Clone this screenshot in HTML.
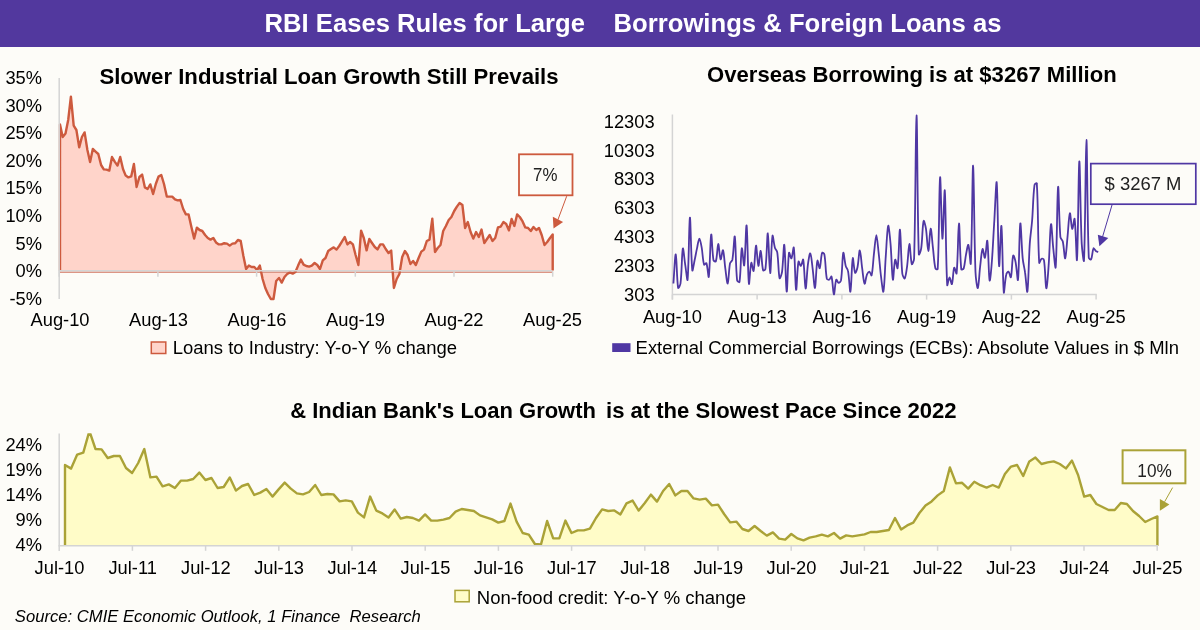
<!DOCTYPE html>
<html lang="en"><head><meta charset="utf-8"><title>RBI Eases Rules for Large Borrowings &amp; Foreign Loans</title>
<style>html,body{margin:0;padding:0;background:#fdfcf8;}body{width:1200px;height:630px;overflow:hidden;font-family:"Liberation Sans",Arial,sans-serif;}svg{display:block}</style>
</head><body>
<svg width="1200" height="630" viewBox="0 0 1200 630">
<rect width="1200" height="630" fill="#fdfcf8"/>
<rect width="1200" height="47" fill="#52389e"/>
<g font-family="'Liberation Sans', Arial, sans-serif">
<text x="264.6" y="31.6" font-size="25.6" font-weight="bold" fill="#fff" textLength="320.4" lengthAdjust="spacingAndGlyphs">RBI Eases Rules for Large</text>
<text x="613.5" y="31.6" font-size="25.6" font-weight="bold" fill="#fff" textLength="388" lengthAdjust="spacingAndGlyphs">Borrowings &amp; Foreign Loans as</text>
<path d="M60.0,271.5 L60.0,124.4 L62.7,137.0 L65.5,133.6 L68.2,120.0 L70.9,96.6 L73.7,125.6 L76.4,130.0 L79.2,147.4 L81.9,137.0 L84.6,132.4 L87.4,150.0 L90.1,162.0 L92.8,149.0 L95.6,151.6 L98.3,154.0 L101.1,165.0 L103.8,169.4 L106.5,169.6 L109.3,170.6 L112.0,157.0 L114.7,161.6 L117.5,165.6 L120.2,157.0 L123.0,169.0 L125.7,175.6 L128.4,177.4 L131.2,176.4 L133.9,164.0 L136.6,187.0 L139.4,177.0 L142.1,174.6 L144.9,187.4 L147.6,189.0 L150.3,184.4 L153.1,194.0 L155.8,184.0 L158.5,176.6 L161.3,175.0 L164.0,184.0 L166.8,196.6 L169.5,196.6 L172.2,196.6 L175.0,199.4 L177.7,200.4 L180.4,200.0 L183.2,209.0 L185.9,214.4 L188.6,214.4 L191.4,227.0 L194.1,238.6 L196.9,227.6 L199.6,230.0 L202.3,231.0 L205.1,235.0 L207.8,238.0 L210.5,239.6 L213.3,238.0 L216.0,242.4 L218.8,244.4 L221.5,244.4 L224.2,243.2 L227.0,243.6 L229.7,245.6 L232.4,243.6 L235.2,243.2 L237.9,240.0 L240.7,241.0 L243.4,256.0 L246.1,269.0 L248.9,265.6 L251.6,267.0 L254.3,267.0 L257.1,270.0 L259.8,265.6 L262.6,279.0 L265.3,288.0 L268.0,294.0 L270.8,299.0 L273.5,299.0 L276.2,281.0 L279.0,278.0 L281.7,282.6 L284.5,277.0 L287.2,274.0 L289.9,272.4 L292.7,273.6 L295.4,272.0 L298.1,265.6 L300.9,259.6 L303.6,264.6 L306.3,266.0 L309.1,266.6 L311.8,265.6 L314.6,263.0 L317.3,265.0 L320.0,269.0 L322.8,260.4 L325.5,258.0 L328.2,251.0 L331.0,249.0 L333.7,247.4 L336.5,249.6 L339.2,246.0 L341.9,241.6 L344.7,237.0 L347.4,244.4 L350.1,242.0 L352.9,244.4 L355.6,255.0 L358.4,265.0 L361.1,230.6 L363.8,238.0 L366.6,250.4 L369.3,239.0 L372.0,243.0 L374.8,247.0 L377.5,249.4 L380.3,244.4 L383.0,244.4 L385.7,249.0 L388.5,253.0 L391.2,250.6 L393.9,288.0 L396.7,279.0 L399.4,274.0 L402.2,257.0 L404.9,251.0 L407.6,255.0 L410.4,264.0 L413.1,261.0 L415.8,265.0 L418.6,258.0 L421.3,251.6 L424.0,249.6 L426.8,241.0 L429.5,239.6 L432.3,218.6 L435.0,252.0 L437.7,248.0 L440.5,245.0 L443.2,231.0 L445.9,226.0 L448.7,220.0 L451.4,217.0 L454.2,211.0 L456.9,206.6 L459.6,203.0 L462.4,205.0 L465.1,228.0 L467.8,222.0 L470.6,232.0 L473.3,238.6 L476.1,232.0 L478.8,237.0 L481.5,229.6 L484.3,243.0 L487.0,239.0 L489.7,235.0 L492.5,241.0 L495.2,238.0 L498.0,227.4 L500.7,226.6 L503.4,222.0 L506.2,224.0 L508.9,230.4 L511.6,219.0 L514.4,226.0 L517.1,214.4 L519.8,217.0 L522.6,221.4 L525.3,227.4 L528.1,228.0 L530.8,231.0 L533.5,227.0 L536.3,230.0 L539.0,228.0 L541.7,235.0 L544.5,245.0 L547.2,242.0 L550.0,238.0 L552.7,234.4 L552.7,271.5 Z" fill="#ffd4ca"/>
<path d="M60.0,272.15 H552.7" stroke="#dc9585" stroke-width="1.5" fill="none"/>
<polyline points="60.0,270.5 60.0,124.4 62.7,137.0 65.5,133.6 68.2,120.0 70.9,96.6 73.7,125.6 76.4,130.0 79.2,147.4 81.9,137.0 84.6,132.4 87.4,150.0 90.1,162.0 92.8,149.0 95.6,151.6 98.3,154.0 101.1,165.0 103.8,169.4 106.5,169.6 109.3,170.6 112.0,157.0 114.7,161.6 117.5,165.6 120.2,157.0 123.0,169.0 125.7,175.6 128.4,177.4 131.2,176.4 133.9,164.0 136.6,187.0 139.4,177.0 142.1,174.6 144.9,187.4 147.6,189.0 150.3,184.4 153.1,194.0 155.8,184.0 158.5,176.6 161.3,175.0 164.0,184.0 166.8,196.6 169.5,196.6 172.2,196.6 175.0,199.4 177.7,200.4 180.4,200.0 183.2,209.0 185.9,214.4 188.6,214.4 191.4,227.0 194.1,238.6 196.9,227.6 199.6,230.0 202.3,231.0 205.1,235.0 207.8,238.0 210.5,239.6 213.3,238.0 216.0,242.4 218.8,244.4 221.5,244.4 224.2,243.2 227.0,243.6 229.7,245.6 232.4,243.6 235.2,243.2 237.9,240.0 240.7,241.0 243.4,256.0 246.1,269.0 248.9,265.6 251.6,267.0 254.3,267.0 257.1,270.0 259.8,265.6 262.6,279.0 265.3,288.0 268.0,294.0 270.8,299.0 273.5,299.0 276.2,281.0 279.0,278.0 281.7,282.6 284.5,277.0 287.2,274.0 289.9,272.4 292.7,273.6 295.4,272.0 298.1,265.6 300.9,259.6 303.6,264.6 306.3,266.0 309.1,266.6 311.8,265.6 314.6,263.0 317.3,265.0 320.0,269.0 322.8,260.4 325.5,258.0 328.2,251.0 331.0,249.0 333.7,247.4 336.5,249.6 339.2,246.0 341.9,241.6 344.7,237.0 347.4,244.4 350.1,242.0 352.9,244.4 355.6,255.0 358.4,265.0 361.1,230.6 363.8,238.0 366.6,250.4 369.3,239.0 372.0,243.0 374.8,247.0 377.5,249.4 380.3,244.4 383.0,244.4 385.7,249.0 388.5,253.0 391.2,250.6 393.9,288.0 396.7,279.0 399.4,274.0 402.2,257.0 404.9,251.0 407.6,255.0 410.4,264.0 413.1,261.0 415.8,265.0 418.6,258.0 421.3,251.6 424.0,249.6 426.8,241.0 429.5,239.6 432.3,218.6 435.0,252.0 437.7,248.0 440.5,245.0 443.2,231.0 445.9,226.0 448.7,220.0 451.4,217.0 454.2,211.0 456.9,206.6 459.6,203.0 462.4,205.0 465.1,228.0 467.8,222.0 470.6,232.0 473.3,238.6 476.1,232.0 478.8,237.0 481.5,229.6 484.3,243.0 487.0,239.0 489.7,235.0 492.5,241.0 495.2,238.0 498.0,227.4 500.7,226.6 503.4,222.0 506.2,224.0 508.9,230.4 511.6,219.0 514.4,226.0 517.1,214.4 519.8,217.0 522.6,221.4 525.3,227.4 528.1,228.0 530.8,231.0 533.5,227.0 536.3,230.0 539.0,228.0 541.7,235.0 544.5,245.0 547.2,242.0 550.0,238.0 552.7,234.4 552.7,270.5" fill="none" stroke="#cd5a3e" stroke-width="2.4" stroke-linejoin="round"/>
<path d="M59.2,78 V299" stroke="#d4d4d4" stroke-width="1.5" fill="none"/>
<path d="M58.5,270.7 H552.2" stroke="#d4d4d4" stroke-width="1.4" fill="none"/>
<path d="M59.2,271.4 v5.3" stroke="#d4d4d4" stroke-width="1.5"/>
<path d="M157.9,271.4 v5.3" stroke="#d4d4d4" stroke-width="1.5"/>
<path d="M256.6,271.4 v5.3" stroke="#d4d4d4" stroke-width="1.5"/>
<path d="M355.3,271.4 v5.3" stroke="#d4d4d4" stroke-width="1.5"/>
<path d="M454.0,271.4 v5.3" stroke="#d4d4d4" stroke-width="1.5"/>
<path d="M552.7,271.4 v5.3" stroke="#d4d4d4" stroke-width="1.5"/>
<g font-size="18.3" fill="#000">
<text x="42" y="84.0" text-anchor="end">35%</text>
<text x="42" y="111.6" text-anchor="end">30%</text>
<text x="42" y="139.2" text-anchor="end">25%</text>
<text x="42" y="166.8" text-anchor="end">20%</text>
<text x="42" y="194.4" text-anchor="end">15%</text>
<text x="42" y="222.0" text-anchor="end">10%</text>
<text x="42" y="249.6" text-anchor="end">5%</text>
<text x="42" y="277.2" text-anchor="end">0%</text>
<text x="42" y="304.8" text-anchor="end">-5%</text>
<text x="60.0" y="326" text-anchor="middle">Aug-10</text>
<text x="158.5" y="326" text-anchor="middle">Aug-13</text>
<text x="257.0" y="326" text-anchor="middle">Aug-16</text>
<text x="355.5" y="326" text-anchor="middle">Aug-19</text>
<text x="454.0" y="326" text-anchor="middle">Aug-22</text>
<text x="552.5" y="326" text-anchor="middle">Aug-25</text>
<text x="172.7" y="353.9" textLength="284.3" lengthAdjust="spacingAndGlyphs">Loans to Industry: Y-o-Y % change</text>
</g>
<rect x="151.3" y="342" width="14.5" height="11.5" fill="#ffd4ca" stroke="#cd5a3e" stroke-width="1.5"/>
<text x="99.4" y="84.1" font-size="22" font-weight="bold" fill="#000" textLength="459.2" lengthAdjust="spacingAndGlyphs">Slower Industrial Loan Growth Still Prevails</text>
<rect x="519" y="154.3" width="53.5" height="41" fill="#fdfcf8" stroke="#cd5a3e" stroke-width="1.8"/>
<text x="533" y="180.6" font-size="18" fill="#222" textLength="24.4" lengthAdjust="spacingAndGlyphs">7%</text>
<path d="M566.7,196.2 L557.9,219.8" stroke="#cd5a3e" stroke-width="1" fill="none"/>
<path d="M553.5,228.4 L552.8,216.8 L563.1,222.1 Z" fill="#cd5a3e"/>
<path d="M672.4,114.6 V299.6 M671.7,294.4 H1096.8" stroke="#d4d4d4" stroke-width="1.5" fill="none"/>
<path d="M672.4,294.4 v5.2" stroke="#d4d4d4" stroke-width="1.5"/>
<path d="M757.1,294.4 v5.2" stroke="#d4d4d4" stroke-width="1.5"/>
<path d="M841.9,294.4 v5.2" stroke="#d4d4d4" stroke-width="1.5"/>
<path d="M926.6,294.4 v5.2" stroke="#d4d4d4" stroke-width="1.5"/>
<path d="M1011.4,294.4 v5.2" stroke="#d4d4d4" stroke-width="1.5"/>
<path d="M1096.1,294.4 v5.2" stroke="#d4d4d4" stroke-width="1.5"/>
<path d="M673.4,283.5C674.2,273.8 675.0,253.7 675.8,254.4C676.6,255.2 676.8,279.4 678.1,287.9C678.3,289.1 680.3,285.1 680.5,283.5C681.9,272.0 681.8,252.9 682.8,248.6C683.3,246.6 684.4,259.3 685.2,264.7C686.0,269.7 687.3,282.8 687.6,279.7C688.8,267.1 689.1,219.3 689.9,217.6C690.6,216.2 691.0,258.4 692.3,270.3C692.5,272.6 693.9,263.6 694.6,260.3C695.5,256.3 696.1,252.3 697.0,248.4C697.7,245.1 698.5,238.7 699.4,238.6C700.1,238.5 701.2,244.6 701.7,247.7C702.7,253.3 702.7,260.3 704.1,264.7C704.3,265.4 706.2,262.5 706.4,263.2C707.7,266.5 708.4,279.2 708.8,276.8C710.0,269.7 710.2,238.0 711.2,234.6C711.8,232.5 712.1,252.2 713.5,260.3C713.7,261.1 715.7,262.0 715.9,261.3C717.3,256.6 717.4,244.3 718.2,244.0C719.0,243.7 719.6,258.1 720.6,259.4C721.2,260.2 722.4,249.2 723.0,250.3C724.0,252.2 724.5,262.4 725.3,268.4C726.0,273.5 727.0,284.2 727.7,283.5C728.6,282.5 728.8,269.9 730.0,263.4C730.3,262.0 732.1,261.1 732.4,259.7C733.7,252.1 734.2,234.1 734.8,236.5C735.8,241.0 735.6,266.1 737.1,280.4C737.2,281.3 739.4,282.8 739.5,282.0C740.9,272.2 740.8,252.1 741.8,248.4C742.4,246.5 743.7,267.6 744.2,265.3C745.3,260.0 745.9,223.0 746.6,225.5C747.5,229.2 747.8,274.6 748.9,283.7C749.3,287.0 750.2,265.8 751.3,262.8C751.7,261.6 753.2,272.4 753.6,270.9C754.8,266.7 755.1,246.5 756.0,245.6C756.7,244.9 757.5,264.9 758.4,265.9C759.0,266.7 760.0,250.2 760.7,250.9C761.6,251.7 761.7,265.0 763.1,270.3C763.3,271.0 765.3,269.9 765.4,269.1C766.9,257.6 767.1,232.7 767.8,233.3C768.6,234.0 769.3,272.6 770.2,273.1C770.9,273.5 771.3,242.2 772.5,235.8C772.9,233.8 773.8,243.9 774.9,247.7C775.3,249.3 777.0,250.5 777.2,252.1C778.6,260.7 778.3,272.9 779.6,278.2C779.9,279.5 781.7,274.3 782.0,272.2C783.2,263.2 783.7,242.5 784.3,244.9C785.3,248.9 785.8,290.2 786.7,291.6C787.4,292.8 787.7,262.3 789.0,252.8C789.3,251.3 790.8,259.0 791.4,258.4C792.4,257.3 793.4,245.6 793.8,247.7C795.0,256.0 795.2,287.0 796.1,289.8C796.8,291.6 797.1,268.3 798.5,261.5C798.7,260.4 800.2,266.2 800.8,265.9C801.7,265.6 802.9,258.2 803.2,259.7C804.5,265.8 804.7,287.6 805.6,288.5C806.3,289.3 806.9,272.6 807.9,264.7C808.4,260.9 809.6,252.8 810.3,253.4C811.2,254.1 812.0,263.4 812.6,268.4C813.5,274.9 814.3,289.0 815.0,287.9C815.9,286.4 816.1,265.8 817.4,260.7C817.7,259.2 819.2,269.1 819.7,268.2C820.8,266.4 820.8,256.5 822.1,252.8C822.3,252.0 824.3,253.7 824.4,254.6C825.8,262.3 825.4,271.0 826.8,278.5C827.0,279.3 828.5,280.0 829.2,279.7C830.1,279.4 831.2,275.7 831.5,276.6C832.8,280.6 833.0,293.8 833.9,294.4C834.6,294.9 835.0,282.8 836.2,279.7C836.6,278.9 837.8,282.8 838.6,282.9C839.3,283.0 840.8,281.5 841.0,280.4C842.4,271.4 842.3,256.0 843.3,252.8C843.8,251.2 844.6,261.6 845.7,265.9C846.1,267.7 847.7,269.1 848.0,270.9C849.3,277.7 849.8,293.3 850.4,291.6C851.4,289.0 851.7,262.5 852.8,258.2C853.2,256.2 854.0,270.7 855.1,272.8C855.6,273.7 857.1,269.2 857.5,267.2C858.6,261.6 859.1,250.1 859.8,250.3C860.7,250.5 861.3,262.4 862.2,268.4C862.9,273.6 863.6,282.4 864.6,283.7C865.2,284.5 865.8,277.6 866.9,274.7C867.4,273.5 868.5,271.5 869.3,271.6C870.1,271.7 871.4,276.4 871.6,275.3C872.9,270.3 873.1,260.7 874.0,253.4C874.7,247.3 875.6,235.2 876.4,235.2C877.1,235.2 878.0,247.3 878.7,253.4C879.6,261.3 880.1,269.3 881.1,277.2C881.7,282.1 883.0,293.7 883.4,291.6C884.6,286.6 884.9,267.8 885.8,255.9C886.5,245.9 887.2,228.4 888.2,225.8C888.7,224.3 890.0,237.5 890.5,243.4C891.6,255.5 891.9,276.2 892.9,279.7C893.4,281.7 894.1,262.4 895.2,259.7C895.7,258.5 897.3,269.9 897.6,268.1C898.9,259.9 899.2,228.7 900.0,229.6C900.8,230.5 900.9,259.0 902.3,273.5C902.5,275.3 904.2,279.2 904.7,278.5C905.7,277.1 906.5,271.0 907.0,267.2C908.1,259.5 908.6,244.5 909.4,244.0C910.1,243.5 910.6,260.4 911.8,264.1C912.1,265.2 914.1,260.4 914.1,258.4C915.6,210.9 915.7,116.1 916.5,115.4C917.3,114.7 917.3,211.9 918.8,254.3C918.9,256.2 920.9,250.5 921.2,248.4C922.5,239.4 922.3,226.3 923.6,221.0C923.9,219.6 925.5,225.8 925.9,228.3C927.1,235.8 927.5,251.1 928.3,251.1C929.1,251.2 929.8,229.0 930.6,228.6C931.4,228.1 932.2,241.8 933.0,248.4C933.8,255.1 934.0,262.3 935.4,268.4C935.5,269.2 937.7,269.9 937.7,269.1C939.3,239.5 939.1,183.5 940.1,177.4C940.7,173.3 941.6,236.1 942.4,238.6C943.1,240.5 944.3,185.4 944.8,190.6C945.8,200.9 945.7,258.3 947.2,285.0C947.3,287.2 948.7,277.6 949.5,277.5C950.3,277.3 951.4,285.1 951.9,284.1C953.0,281.8 953.1,270.3 954.2,267.7C954.7,266.7 956.4,275.1 956.6,273.5C958.0,260.4 958.1,224.2 959.0,223.5C959.7,222.9 959.8,255.3 961.3,269.4C961.4,270.2 963.4,269.2 963.7,268.4C965.0,264.3 965.1,259.2 966.0,254.6C966.7,251.4 967.8,243.8 968.4,244.9C969.4,246.8 970.5,267.7 970.8,263.4C972.1,241.2 972.4,164.2 973.1,165.6C973.9,167.1 974.1,236.7 975.5,272.2C975.7,277.6 977.2,289.0 977.8,288.1C978.8,286.9 979.3,273.3 980.2,265.9C980.9,260.3 981.5,250.8 982.6,249.0C983.1,248.1 984.4,258.7 984.9,257.8C985.9,256.0 986.8,238.6 987.3,240.8C988.4,246.1 988.6,276.2 989.6,280.4C990.2,282.5 991.5,266.6 992.0,259.7C993.0,246.3 993.5,232.9 994.4,219.5C995.1,207.2 996.2,177.8 996.7,182.6C997.8,193.3 998.0,256.1 999.1,265.9C999.6,270.6 1000.8,222.7 1001.4,226.0C1002.4,231.5 1002.6,279.5 1003.8,292.3C1004.1,295.7 1004.9,280.4 1006.2,274.7C1006.4,273.5 1007.9,271.2 1008.5,271.6C1009.5,272.1 1010.5,278.4 1010.9,277.2C1012.1,273.1 1012.0,259.4 1013.2,255.6C1013.6,254.4 1015.2,259.9 1015.6,262.2C1016.7,267.9 1017.6,282.8 1018.0,279.7C1019.2,269.9 1019.3,227.9 1020.3,223.5C1020.9,220.8 1021.6,246.8 1022.7,258.4C1023.1,263.0 1024.4,267.6 1025.0,272.2C1026.0,278.7 1026.9,294.4 1027.4,291.6C1028.5,284.8 1028.7,259.4 1029.8,243.4C1030.3,235.8 1031.5,228.3 1032.1,220.8C1033.1,208.9 1033.0,196.5 1034.5,185.0C1034.6,184.1 1036.8,182.5 1036.8,183.4C1038.4,208.4 1037.7,239.1 1039.2,262.8C1039.3,264.2 1040.5,259.3 1041.6,258.7C1042.1,258.3 1043.8,258.9 1043.9,259.7C1045.4,268.7 1045.4,287.1 1046.3,288.3C1047.0,289.2 1048.1,273.4 1048.6,265.9C1049.7,252.0 1050.0,227.5 1051.0,224.2C1051.6,222.1 1052.4,241.2 1053.4,249.6C1054.0,255.5 1055.4,271.0 1055.7,267.2C1057.0,250.1 1057.1,193.2 1058.1,187.0C1058.7,183.1 1059.0,220.6 1060.4,237.1C1060.6,238.7 1062.4,239.9 1062.8,241.5C1064.0,247.0 1064.5,259.1 1065.2,258.4C1066.0,257.6 1066.8,244.2 1067.5,237.1C1068.3,229.1 1068.9,214.9 1069.9,213.3C1070.5,212.2 1071.3,227.8 1072.2,228.9C1072.9,229.7 1074.3,216.8 1074.6,218.9C1075.9,227.1 1076.5,265.3 1077.0,259.7C1078.1,246.1 1078.5,164.4 1079.3,161.4C1080.0,158.9 1080.4,216.1 1081.7,243.4C1082.0,249.0 1083.8,264.6 1084.0,260.3C1085.4,230.1 1085.6,140.4 1086.4,140.0C1087.2,139.6 1087.2,218.9 1088.8,257.8C1088.8,258.7 1090.8,260.0 1091.1,259.4C1092.4,256.9 1092.3,250.6 1093.5,248.4C1093.8,247.7 1095.0,250.2 1095.8,250.9C1096.5,251.4 1097.4,251.7 1098.2,252.1" fill="none" stroke="#4f37a3" stroke-width="1.8" stroke-linejoin="round"/>
<g font-size="18.3" fill="#000">
<text x="654.6" y="127.7" text-anchor="end">12303</text>
<text x="654.6" y="156.5" text-anchor="end">10303</text>
<text x="654.6" y="185.4" text-anchor="end">8303</text>
<text x="654.6" y="214.2" text-anchor="end">6303</text>
<text x="654.6" y="243.1" text-anchor="end">4303</text>
<text x="654.6" y="271.9" text-anchor="end">2303</text>
<text x="654.6" y="300.8" text-anchor="end">303</text>
<text x="672.4" y="322.6" text-anchor="middle">Aug-10</text>
<text x="757.1" y="322.6" text-anchor="middle">Aug-13</text>
<text x="841.9" y="322.6" text-anchor="middle">Aug-16</text>
<text x="926.6" y="322.6" text-anchor="middle">Aug-19</text>
<text x="1011.4" y="322.6" text-anchor="middle">Aug-22</text>
<text x="1096.1" y="322.6" text-anchor="middle">Aug-25</text>
<text x="635.6" y="353.9" textLength="543.3" lengthAdjust="spacingAndGlyphs">External Commercial Borrowings (ECBs): Absolute Values in $ Mln</text>
</g>
<rect x="612.2" y="343.2" width="18.3" height="8.8" fill="#4f37a3"/>
<text x="707.1" y="82.4" font-size="22" font-weight="bold" fill="#000" textLength="409.6" lengthAdjust="spacingAndGlyphs">Overseas Borrowing is at $3267 Million</text>
<rect x="1090.8" y="163.6" width="105" height="40.6" fill="#fdfcf8" stroke="#4f37a3" stroke-width="1.7"/>
<text x="1104.5" y="190.4" font-size="19.2" fill="#222" textLength="77" lengthAdjust="spacingAndGlyphs">$ 3267 M</text>
<path d="M1112,205 L1102.5,237" stroke="#4f37a3" stroke-width="1" fill="none"/>
<path d="M1099.4,246.3 L1097.8,234.7 L1108.3,237.9 Z" fill="#4f37a3"/>
<clipPath id="cl3"><rect x="50" y="433.3" width="1130" height="120"/></clipPath>
<g clip-path="url(#cl3)"><path d="M65.0,545.7 L65.0,465.0 L71.1,468.6 L77.2,454.6 L83.3,452.6 L89.4,431.0 L95.5,449.0 L101.6,449.4 L107.7,458.0 L113.8,456.0 L119.9,456.0 L126.0,468.0 L132.1,473.0 L138.2,463.0 L144.3,449.0 L150.4,477.4 L156.5,476.6 L162.6,486.4 L168.8,484.4 L174.9,488.0 L181.0,480.6 L187.1,480.6 L193.2,479.0 L199.3,472.6 L205.4,480.0 L211.5,478.0 L217.6,488.0 L223.7,487.0 L229.8,477.4 L235.9,490.6 L242.0,486.0 L248.1,484.0 L254.2,495.0 L260.3,492.6 L266.4,489.0 L272.5,496.6 L278.6,489.4 L284.7,482.6 L290.8,488.6 L296.9,493.4 L303.0,494.4 L309.1,492.0 L315.2,485.0 L321.3,495.0 L327.4,494.0 L333.5,494.4 L339.6,501.4 L345.7,500.4 L351.8,501.4 L357.9,512.6 L364.0,517.4 L370.1,496.6 L376.3,510.6 L382.4,513.4 L388.5,517.4 L394.6,509.4 L400.7,518.6 L406.8,517.0 L412.9,518.0 L419.0,520.6 L425.1,514.4 L431.2,520.6 L437.3,520.6 L443.4,519.6 L449.5,518.0 L455.6,511.6 L461.7,509.0 L467.8,510.0 L473.9,511.0 L480.0,515.4 L486.1,517.4 L492.2,519.4 L498.3,522.6 L504.4,521.0 L510.5,503.6 L516.6,521.6 L522.7,533.0 L528.8,534.6 L534.9,544.0 L541.0,544.4 L547.1,521.0 L553.2,538.4 L559.3,538.4 L565.4,520.6 L571.5,533.0 L577.7,530.4 L583.8,530.4 L589.9,528.6 L596.0,518.0 L602.1,509.4 L608.2,511.0 L614.3,510.4 L620.4,514.4 L626.5,503.4 L632.6,500.6 L638.7,510.6 L644.8,503.0 L650.9,494.6 L657.0,501.6 L663.1,491.0 L669.2,484.0 L675.3,495.4 L681.4,491.0 L687.5,491.0 L693.6,498.4 L699.7,499.6 L705.8,498.6 L711.9,505.4 L718.0,504.6 L724.1,514.0 L730.2,522.4 L736.3,521.6 L742.4,529.0 L748.5,531.0 L754.6,526.0 L760.7,531.0 L766.8,535.6 L772.9,532.4 L779.1,538.6 L785.2,539.6 L791.3,534.0 L797.4,538.4 L803.5,540.4 L809.6,537.6 L815.7,536.4 L821.8,534.6 L827.9,536.4 L834.0,533.0 L840.1,538.6 L846.2,535.4 L852.3,536.4 L858.4,535.4 L864.5,534.4 L870.6,532.0 L876.7,532.0 L882.8,531.0 L888.9,530.0 L895.0,518.0 L901.1,529.4 L907.2,525.4 L913.3,522.6 L919.4,513.0 L925.5,505.6 L931.6,501.4 L937.7,495.4 L943.8,491.0 L949.9,467.4 L956.0,483.4 L962.1,482.8 L968.2,488.6 L974.3,481.8 L980.4,485.2 L986.6,487.6 L992.7,485.0 L998.8,487.6 L1004.9,474.0 L1011.0,466.6 L1017.1,465.0 L1023.2,476.0 L1029.3,461.4 L1035.4,457.6 L1041.5,464.0 L1047.6,462.4 L1053.7,461.4 L1059.8,464.0 L1065.9,468.4 L1072.0,460.6 L1078.1,475.0 L1084.2,496.6 L1090.3,495.0 L1096.4,504.0 L1102.5,507.0 L1108.6,510.0 L1114.7,510.0 L1120.8,503.0 L1126.9,504.0 L1133.0,511.0 L1139.1,516.0 L1145.2,522.0 L1151.3,519.0 L1157.4,516.4 L1157.4,545.7 Z" fill="#fffcc8"/>
<polyline points="65.0,545.7 65.0,465.0 71.1,468.6 77.2,454.6 83.3,452.6 89.4,431.0 95.5,449.0 101.6,449.4 107.7,458.0 113.8,456.0 119.9,456.0 126.0,468.0 132.1,473.0 138.2,463.0 144.3,449.0 150.4,477.4 156.5,476.6 162.6,486.4 168.8,484.4 174.9,488.0 181.0,480.6 187.1,480.6 193.2,479.0 199.3,472.6 205.4,480.0 211.5,478.0 217.6,488.0 223.7,487.0 229.8,477.4 235.9,490.6 242.0,486.0 248.1,484.0 254.2,495.0 260.3,492.6 266.4,489.0 272.5,496.6 278.6,489.4 284.7,482.6 290.8,488.6 296.9,493.4 303.0,494.4 309.1,492.0 315.2,485.0 321.3,495.0 327.4,494.0 333.5,494.4 339.6,501.4 345.7,500.4 351.8,501.4 357.9,512.6 364.0,517.4 370.1,496.6 376.3,510.6 382.4,513.4 388.5,517.4 394.6,509.4 400.7,518.6 406.8,517.0 412.9,518.0 419.0,520.6 425.1,514.4 431.2,520.6 437.3,520.6 443.4,519.6 449.5,518.0 455.6,511.6 461.7,509.0 467.8,510.0 473.9,511.0 480.0,515.4 486.1,517.4 492.2,519.4 498.3,522.6 504.4,521.0 510.5,503.6 516.6,521.6 522.7,533.0 528.8,534.6 534.9,544.0 541.0,544.4 547.1,521.0 553.2,538.4 559.3,538.4 565.4,520.6 571.5,533.0 577.7,530.4 583.8,530.4 589.9,528.6 596.0,518.0 602.1,509.4 608.2,511.0 614.3,510.4 620.4,514.4 626.5,503.4 632.6,500.6 638.7,510.6 644.8,503.0 650.9,494.6 657.0,501.6 663.1,491.0 669.2,484.0 675.3,495.4 681.4,491.0 687.5,491.0 693.6,498.4 699.7,499.6 705.8,498.6 711.9,505.4 718.0,504.6 724.1,514.0 730.2,522.4 736.3,521.6 742.4,529.0 748.5,531.0 754.6,526.0 760.7,531.0 766.8,535.6 772.9,532.4 779.1,538.6 785.2,539.6 791.3,534.0 797.4,538.4 803.5,540.4 809.6,537.6 815.7,536.4 821.8,534.6 827.9,536.4 834.0,533.0 840.1,538.6 846.2,535.4 852.3,536.4 858.4,535.4 864.5,534.4 870.6,532.0 876.7,532.0 882.8,531.0 888.9,530.0 895.0,518.0 901.1,529.4 907.2,525.4 913.3,522.6 919.4,513.0 925.5,505.6 931.6,501.4 937.7,495.4 943.8,491.0 949.9,467.4 956.0,483.4 962.1,482.8 968.2,488.6 974.3,481.8 980.4,485.2 986.6,487.6 992.7,485.0 998.8,487.6 1004.9,474.0 1011.0,466.6 1017.1,465.0 1023.2,476.0 1029.3,461.4 1035.4,457.6 1041.5,464.0 1047.6,462.4 1053.7,461.4 1059.8,464.0 1065.9,468.4 1072.0,460.6 1078.1,475.0 1084.2,496.6 1090.3,495.0 1096.4,504.0 1102.5,507.0 1108.6,510.0 1114.7,510.0 1120.8,503.0 1126.9,504.0 1133.0,511.0 1139.1,516.0 1145.2,522.0 1151.3,519.0 1157.4,516.4 1157.4,545.7" fill="none" stroke="#aaa237" stroke-width="2.4" stroke-linejoin="round"/></g>
<path d="M59.2,433.5 V551" stroke="#d4d4d4" stroke-width="1.5" fill="none"/>
<path d="M58.5,545.8 H1158" stroke="#d4d4d4" stroke-width="1.5" fill="none"/>
<path d="M132.4,545.8 v5" stroke="#d4d4d4" stroke-width="1.5"/>
<path d="M205.6,545.8 v5" stroke="#d4d4d4" stroke-width="1.5"/>
<path d="M278.8,545.8 v5" stroke="#d4d4d4" stroke-width="1.5"/>
<path d="M352.0,545.8 v5" stroke="#d4d4d4" stroke-width="1.5"/>
<path d="M425.2,545.8 v5" stroke="#d4d4d4" stroke-width="1.5"/>
<path d="M498.4,545.8 v5" stroke="#d4d4d4" stroke-width="1.5"/>
<path d="M571.6,545.8 v5" stroke="#d4d4d4" stroke-width="1.5"/>
<path d="M644.8,545.8 v5" stroke="#d4d4d4" stroke-width="1.5"/>
<path d="M718.0,545.8 v5" stroke="#d4d4d4" stroke-width="1.5"/>
<path d="M791.2,545.8 v5" stroke="#d4d4d4" stroke-width="1.5"/>
<path d="M864.4,545.8 v5" stroke="#d4d4d4" stroke-width="1.5"/>
<path d="M937.6,545.8 v5" stroke="#d4d4d4" stroke-width="1.5"/>
<path d="M1010.8,545.8 v5" stroke="#d4d4d4" stroke-width="1.5"/>
<path d="M1084.0,545.8 v5" stroke="#d4d4d4" stroke-width="1.5"/>
<path d="M1157.2,545.8 v5" stroke="#d4d4d4" stroke-width="1.5"/>
<g font-size="18.3" fill="#000">
<text x="42" y="450.5" text-anchor="end">24%</text>
<text x="42" y="475.7" text-anchor="end">19%</text>
<text x="42" y="501.0" text-anchor="end">14%</text>
<text x="42" y="526.2" text-anchor="end">9%</text>
<text x="42" y="551.4" text-anchor="end">4%</text>
<text x="59.5" y="573.7" text-anchor="middle">Jul-10</text>
<text x="132.7" y="573.7" text-anchor="middle">Jul-11</text>
<text x="205.9" y="573.7" text-anchor="middle">Jul-12</text>
<text x="279.1" y="573.7" text-anchor="middle">Jul-13</text>
<text x="352.3" y="573.7" text-anchor="middle">Jul-14</text>
<text x="425.5" y="573.7" text-anchor="middle">Jul-15</text>
<text x="498.7" y="573.7" text-anchor="middle">Jul-16</text>
<text x="571.9" y="573.7" text-anchor="middle">Jul-17</text>
<text x="645.1" y="573.7" text-anchor="middle">Jul-18</text>
<text x="718.3" y="573.7" text-anchor="middle">Jul-19</text>
<text x="791.5" y="573.7" text-anchor="middle">Jul-20</text>
<text x="864.7" y="573.7" text-anchor="middle">Jul-21</text>
<text x="937.9" y="573.7" text-anchor="middle">Jul-22</text>
<text x="1011.1" y="573.7" text-anchor="middle">Jul-23</text>
<text x="1084.3" y="573.7" text-anchor="middle">Jul-24</text>
<text x="1157.5" y="573.7" text-anchor="middle">Jul-25</text>
<text x="476.8" y="603.7" textLength="269.2" lengthAdjust="spacingAndGlyphs">Non-food credit: Y-o-Y % change</text>
</g>
<rect x="455" y="590.4" width="14.2" height="11.4" fill="#fffcc8" stroke="#aaa237" stroke-width="1.5"/>
<text x="290.2" y="418" font-size="22" font-weight="bold" fill="#000" textLength="305.8" lengthAdjust="spacingAndGlyphs">&amp; Indian Bank's Loan Growth</text>
<text x="606" y="418" font-size="22" font-weight="bold" fill="#000" textLength="350.6" lengthAdjust="spacingAndGlyphs">is at the Slowest Pace Since 2022</text>
<rect x="1122.6" y="450.3" width="62.8" height="33" fill="#fdfcf8" stroke="#aaa237" stroke-width="2"/>
<text x="1137.3" y="477.2" font-size="18.5" fill="#222" textLength="34.5" lengthAdjust="spacingAndGlyphs">10%</text>
<path d="M1172.6,487.6 L1164.6,501.8" stroke="#aaa237" stroke-width="1" fill="none"/>
<path d="M1159.9,510.8 L1159.9,499 L1169.4,504.5 Z" fill="#aaa237"/>
<text x="14.8" y="621.6" font-size="16.6" font-style="italic" fill="#000" textLength="406" lengthAdjust="spacingAndGlyphs">Source: CMIE Economic Outlook, 1 Finance&#160; Research</text>
</g></svg>
</body></html>
